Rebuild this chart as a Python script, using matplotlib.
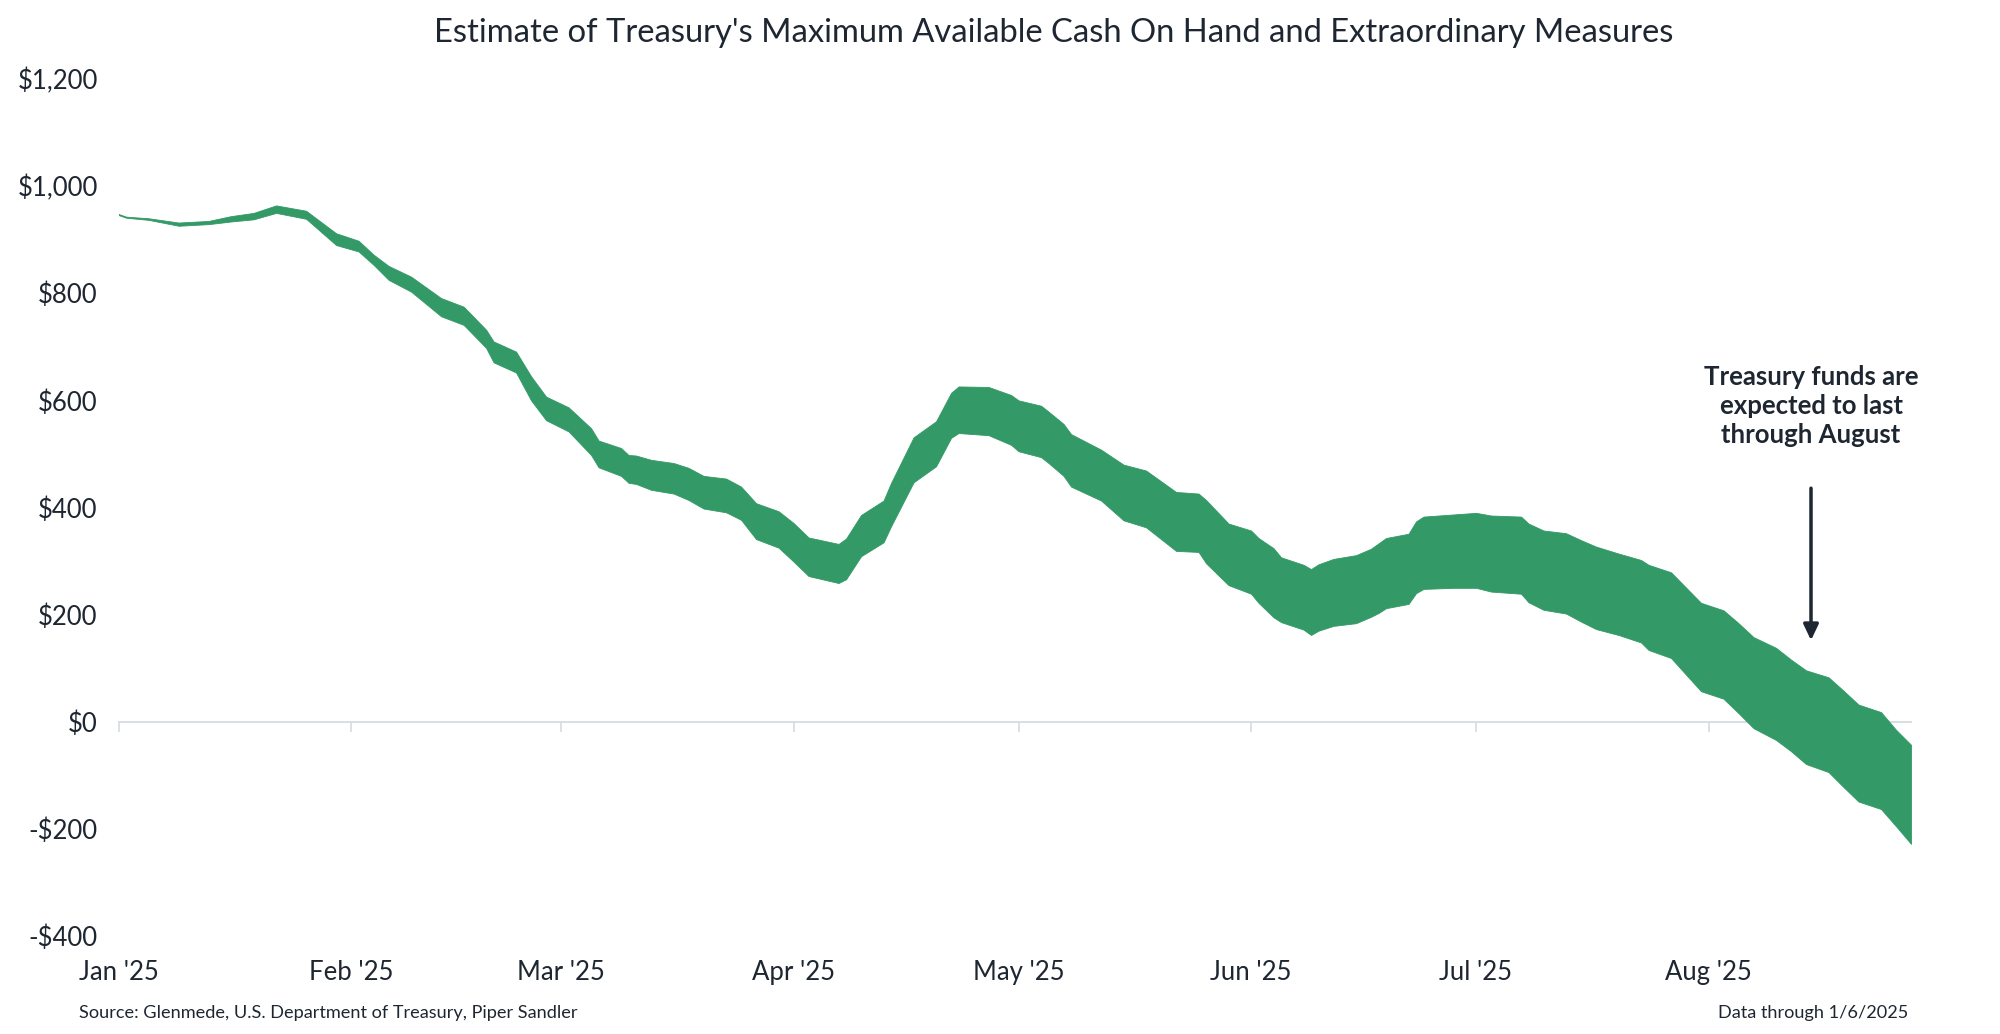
import numpy as np
import pandas as pd
import matplotlib
matplotlib.use("Agg")
import matplotlib.pyplot as plt
import matplotlib.dates as mdates
from matplotlib.ticker import FuncFormatter

plt.rcParams['font.family'] = ['Lato', 'DejaVu Sans']

# ---- data (USD billions) ----
dates = [
    '2025-01-01', '2025-01-02', '2025-01-05', '2025-01-09', '2025-01-13', '2025-01-16',
    '2025-01-19', '2025-01-22', '2025-01-26', '2025-01-30', '2025-02-02', '2025-02-04',
    '2025-02-06', '2025-02-09', '2025-02-13', '2025-02-16', '2025-02-19', '2025-02-20',
    '2025-02-23', '2025-02-25', '2025-02-27', '2025-03-02', '2025-03-05', '2025-03-06',
    '2025-03-09', '2025-03-10', '2025-03-11', '2025-03-13', '2025-03-16', '2025-03-18',
    '2025-03-20', '2025-03-23', '2025-03-25', '2025-03-27', '2025-03-30', '2025-04-01',
    '2025-04-03', '2025-04-07', '2025-04-08', '2025-04-10', '2025-04-13', '2025-04-14',
    '2025-04-17', '2025-04-20', '2025-04-22', '2025-04-23', '2025-04-27', '2025-04-30',
    '2025-05-01', '2025-05-04', '2025-05-05', '2025-05-07', '2025-05-08', '2025-05-12',
    '2025-05-15', '2025-05-18', '2025-05-22', '2025-05-25', '2025-05-26', '2025-05-29',
    '2025-06-01', '2025-06-02', '2025-06-04', '2025-06-05', '2025-06-08', '2025-06-09',
    '2025-06-10', '2025-06-12', '2025-06-15', '2025-06-17', '2025-06-18', '2025-06-19',
    '2025-06-22', '2025-06-23', '2025-06-24', '2025-06-28', '2025-07-01', '2025-07-03',
    '2025-07-07', '2025-07-08', '2025-07-10', '2025-07-13', '2025-07-15', '2025-07-17',
    '2025-07-20', '2025-07-23', '2025-07-24', '2025-07-27', '2025-07-31', '2025-08-03',
    '2025-08-05', '2025-08-07', '2025-08-10', '2025-08-12', '2025-08-14', '2025-08-17',
    '2025-08-19', '2025-08-21', '2025-08-24', '2025-08-26', '2025-08-28',
]
upper = [
    948, 943, 940, 932, 935, 944, 950, 964, 954, 912, 898, 872,
    851, 831, 791, 775, 732, 710, 691, 645, 607, 587, 548, 525,
    511, 498, 497, 489, 483, 474, 459, 454, 439, 408, 393, 371,
    344, 332, 342, 386, 413, 446, 531, 561, 614, 626, 625, 610,
    600, 590, 579, 556, 537, 508, 480, 469, 429, 426, 414, 370,
    357, 343, 324, 307, 293, 285, 294, 304, 311, 323, 333, 343,
    351, 374, 383, 387, 390, 385, 383, 370, 357, 352, 339, 327,
    314, 302, 293, 279, 222, 208, 184, 158, 138, 116, 96, 83,
    58, 32, 18, -15, -43,
]
lower = [
    946, 941, 937, 926, 929, 934, 938, 950, 939, 890, 878, 853,
    825, 803, 757, 741, 698, 671, 652, 600, 563, 542, 498, 475,
    459, 446, 444, 433, 426, 414, 398, 391, 377, 341, 325, 299,
    272, 259, 266, 309, 335, 365, 447, 477, 530, 539, 535, 517,
    505, 494, 483, 459, 439, 413, 376, 363, 319, 317, 296, 255,
    239, 222, 195, 186, 172, 162, 170, 179, 184, 196, 203, 212,
    220, 240, 248, 250, 250, 243, 239, 223, 209, 202, 187, 173,
    162, 148, 134, 119, 57, 43, 16, -12, -34, -55, -79, -94,
    -122, -149, -163, -195, -228,
]
month_ticks = ['2025-01-01', '2025-02-01', '2025-03-01', '2025-04-01',
               '2025-05-01', '2025-06-01', '2025-07-01', '2025-08-01']
y_ticks = [-400, -200, 0, 200, 400, 600, 800, 1000, 1200]

title = "Estimate of Treasury's Maximum Available Cash On Hand and Extraordinary Measures"
note = "Treasury funds are\nexpected to last\nthrough August"
note_date = '2025-08-14 16:00'
source = "Source: Glenmede, U.S. Department of Treasury, Piper Sandler"
data_note = "Data through 1/6/2025"

GREEN = '#339966'
TEXT = '#1e2631'
GRID = '#d6dbe2'


def money(v, pos=None):
    v = int(round(v))
    return f"-${abs(v):,}" if v < 0 else f"${v:,}"


def main():
    x = pd.to_datetime(dates)
    ticks = pd.to_datetime(month_ticks)

    fig = plt.figure(figsize=(20, 10.34), dpi=100)
    ax = fig.add_axes([0.0593, 0.0948, 0.8962, 0.8288])

    ax.fill_between(x, lower, upper, color=GREEN, lw=0.6, edgecolor=GREEN)

    ax.set_xlim(x[0], x[-1])
    ax.set_ylim(-400, 1200)

    for s in ax.spines.values():
        s.set_visible(False)

    ax.set_yticks(y_ticks)
    ax.yaxis.set_major_formatter(FuncFormatter(money))
    ax.set_xticks(ticks)
    ax.xaxis.set_major_formatter(mdates.DateFormatter("%b '%y"))
    ax.tick_params(axis='both', length=0, labelsize=18.5, labelcolor=TEXT)
    ax.tick_params(axis='x', pad=17)
    ax.tick_params(axis='y', pad=15)

    # zero line with month tick marks
    zero_pos = (0 - (-400)) / 1600
    ax2 = ax.secondary_xaxis(zero_pos)
    ax2.set_xticks(mdates.date2num(ticks))
    ax2.tick_params(length=7, width=1.2, color=GRID, labelbottom=False)
    for s in ax2.spines.values():
        s.set_color(GRID)
        s.set_linewidth(1.3)

    # annotation
    nd = pd.Timestamp(note_date)
    ax.text(nd, 590, note, ha='center', va='center', fontsize=18.5,
            fontweight='bold', color=TEXT, linespacing=1.25)
    ax.annotate('', xy=(nd, 152), xytext=(nd, 436),
                arrowprops=dict(arrowstyle='-|>,head_length=0.95,head_width=0.45',
                                lw=2.5, color=TEXT, shrinkA=0, shrinkB=0,
                                mutation_scale=10))

    fig.text(0.527, 1 - 33 / 1034, title, ha='center', va='center',
             fontsize=23.6, color=TEXT)
    fig.text(79 / 2000, 1 - 1013 / 1034, source, ha='left', va='center',
             fontsize=13.1, color=TEXT)
    fig.text(1908 / 2000, 1 - 1013 / 1034, data_note, ha='right', va='center',
             fontsize=13.1, color=TEXT)

    fig.savefig('out.png', dpi=100)


if __name__ == "__main__":
    main()
